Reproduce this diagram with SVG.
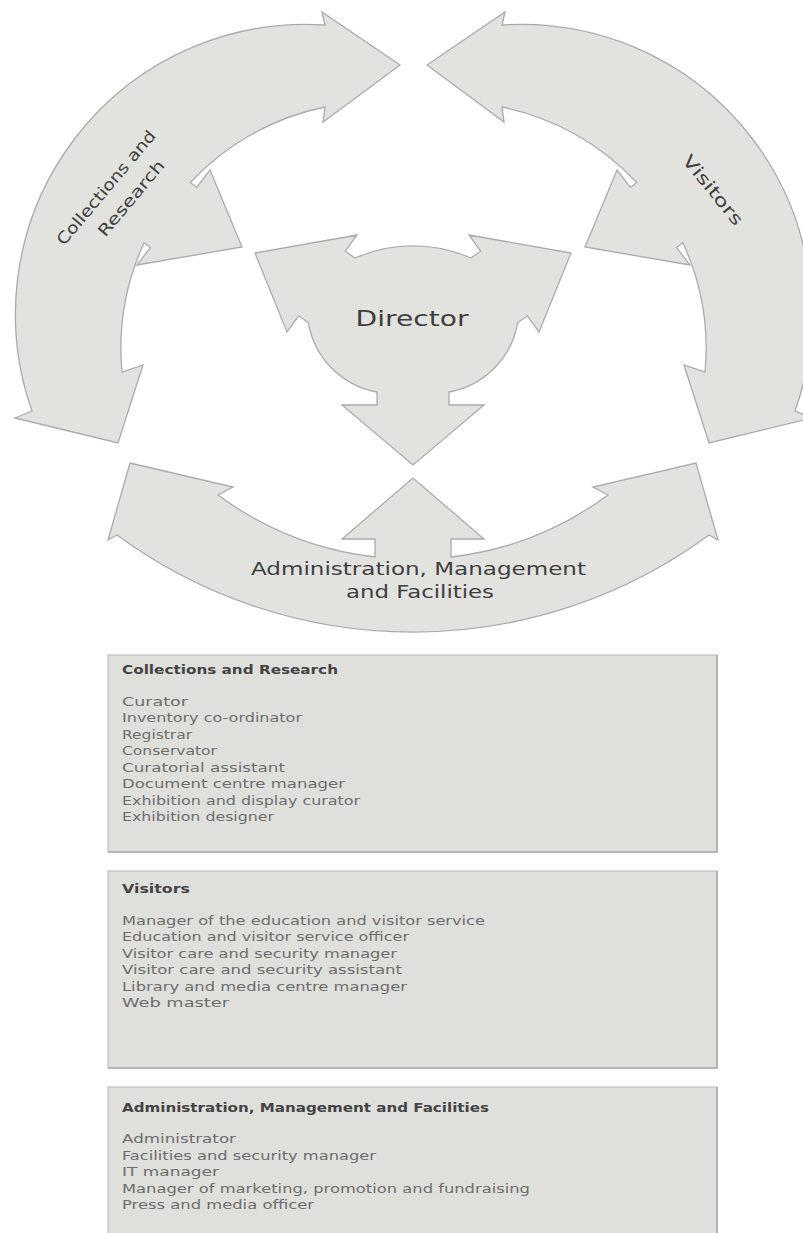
<svg xmlns="http://www.w3.org/2000/svg" width="803" height="1233" viewBox="0 0 803 1233">
<style>
.shape{fill:#e2e2df;stroke:#ababab;stroke-width:1.3;stroke-linejoin:miter}
.lbl{font-family:"DejaVu Sans","Liberation Sans",sans-serif;fill:#3f3f3f}
.box{fill:#dfdfdc;stroke:#c4c4c4;stroke-width:1.2}
.shadow{fill:none;stroke:#acacac;stroke-width:1.6}
.hd{font-family:"DejaVu Sans","Liberation Sans",sans-serif;font-weight:bold;font-size:12px;fill:#444}
.it{font-family:"DejaVu Sans","Liberation Sans",sans-serif;font-size:12.5px;fill:#6e6e6e}
</style>
<rect width="803" height="1233" fill="#ffffff"/>

<g id="collections-research">
<path class="shape" d="M400,65 L323,122 L325,107 A253,253 0 0 0 190.3,182.5 L196.6,187.4 L210,170 L242,247 L137,265 L150.4,247.6 L144.1,242.7 A253,253 0 0 0 122,372 L143,365 L118,443 L15,418 L32,411 A290,290 0 0 1 325,25 L322,12 Z"/>
<g transform="translate(115,195) rotate(-50)">
<text class="lbl" font-size="16" text-anchor="middle" x="0" y="-6" textLength="144" lengthAdjust="spacingAndGlyphs">Collections and</text>
<text class="lbl" font-size="16" text-anchor="middle" x="8" y="20" textLength="94" lengthAdjust="spacingAndGlyphs">Research</text>
</g>
</g>

<g id="visitors">
<path class="shape" transform="translate(827,0) scale(-1,1)" d="M400,65 L323,122 L325,107 A253,253 0 0 0 190.3,182.5 L196.6,187.4 L210,170 L242,247 L137,265 L150.4,247.6 L144.1,242.7 A253,253 0 0 0 122,372 L143,365 L118,443 L15,418 L32,411 A290,290 0 0 1 325,25 L322,12 Z"/>
<g transform="translate(713,190) rotate(51)">
<text class="lbl" font-size="17" text-anchor="middle" x="0" y="6" textLength="85" lengthAdjust="spacingAndGlyphs">Visitors</text>
</g>
</g>

<g id="administration">
<path class="shape" d="M130,463 L233,487 L218,495 A327,327 0 0 0 375,557 L375,539 L342,539 L413,478 L484,539 L451,539 L451,557 A327,327 0 0 0 608,495 L593,487 L696,463 L718,540 L709,535 A500,500 0 0 1 117,535 L108,540 Z"/>
<text class="lbl" font-size="18" text-anchor="middle" x="418.5" y="575" textLength="335" lengthAdjust="spacingAndGlyphs">Administration, Management</text>
<text class="lbl" font-size="18" text-anchor="middle" x="420" y="598" textLength="148" lengthAdjust="spacingAndGlyphs">and Facilities</text>
</g>

<g id="director">
<path class="shape" d="M355,258 A145,145 0 0 1 471,258 L480.7,251.2 L469,235 L571,253 L539,332 L527.3,315.8 L517.6,322.8 A85,85 0 0 1 449,392 L449,405 L484,405 L413,465 L342,405 L377,405 L377,392 A85,85 0 0 1 308.4,322.8 L298.7,315.8 L287,332 L255,253 L357,235 L345.3,251.2 Z"/>
<text class="lbl" font-size="22" text-anchor="middle" x="412" y="326" textLength="113" lengthAdjust="spacingAndGlyphs">Director</text>
</g>

<g id="connectors"></g>

<g id="box-collections">
<rect class="box" x="108" y="655" width="609" height="197"/>
<path class="shadow" d="M717,655 V852 H108"/>
<text class="hd" x="122" y="674" textLength="216" lengthAdjust="spacingAndGlyphs">Collections and Research</text>
<text class="it" x="122" y="706" textLength="66" lengthAdjust="spacingAndGlyphs">Curator</text>
<text class="it" x="122" y="722.4" textLength="180" lengthAdjust="spacingAndGlyphs">Inventory co-ordinator</text>
<text class="it" x="122" y="738.9" textLength="70" lengthAdjust="spacingAndGlyphs">Registrar</text>
<text class="it" x="122" y="755.3" textLength="95" lengthAdjust="spacingAndGlyphs">Conservator</text>
<text class="it" x="122" y="771.7" textLength="163" lengthAdjust="spacingAndGlyphs">Curatorial assistant</text>
<text class="it" x="122" y="788.1" textLength="223" lengthAdjust="spacingAndGlyphs">Document centre manager</text>
<text class="it" x="122" y="804.6" textLength="238" lengthAdjust="spacingAndGlyphs">Exhibition and display curator</text>
<text class="it" x="122" y="821" textLength="152" lengthAdjust="spacingAndGlyphs">Exhibition designer</text>
</g>

<g id="box-visitors">
<rect class="box" x="108" y="871" width="609" height="197"/>
<path class="shadow" d="M717,871 V1068 H108"/>
<text class="hd" x="122" y="893" textLength="68" lengthAdjust="spacingAndGlyphs">Visitors</text>
<text class="it" x="122" y="925" textLength="363" lengthAdjust="spacingAndGlyphs">Manager of the education and visitor service</text>
<text class="it" x="122" y="941.4" textLength="287" lengthAdjust="spacingAndGlyphs">Education and visitor service officer</text>
<text class="it" x="122" y="957.8" textLength="275" lengthAdjust="spacingAndGlyphs">Visitor care and security manager</text>
<text class="it" x="122" y="974.2" textLength="280" lengthAdjust="spacingAndGlyphs">Visitor care and security assistant</text>
<text class="it" x="122" y="990.6" textLength="285" lengthAdjust="spacingAndGlyphs">Library and media centre manager</text>
<text class="it" x="122" y="1007" textLength="107" lengthAdjust="spacingAndGlyphs">Web master</text>
</g>

<g id="box-administration">
<rect class="box" x="108" y="1087" width="609" height="160"/>
<path class="shadow" d="M717,1087 V1247"/>
<text class="hd" x="122" y="1112" textLength="367" lengthAdjust="spacingAndGlyphs">Administration, Management and Facilities</text>
<text class="it" x="122" y="1143" textLength="114" lengthAdjust="spacingAndGlyphs">Administrator</text>
<text class="it" x="122" y="1159.6" textLength="254" lengthAdjust="spacingAndGlyphs">Facilities and security manager</text>
<text class="it" x="122" y="1176.2" textLength="97" lengthAdjust="spacingAndGlyphs">IT manager</text>
<text class="it" x="122" y="1192.8" textLength="408" lengthAdjust="spacingAndGlyphs">Manager of marketing, promotion and fundraising</text>
<text class="it" x="122" y="1209.4" textLength="192" lengthAdjust="spacingAndGlyphs">Press and media officer</text>
</g>
</svg>
